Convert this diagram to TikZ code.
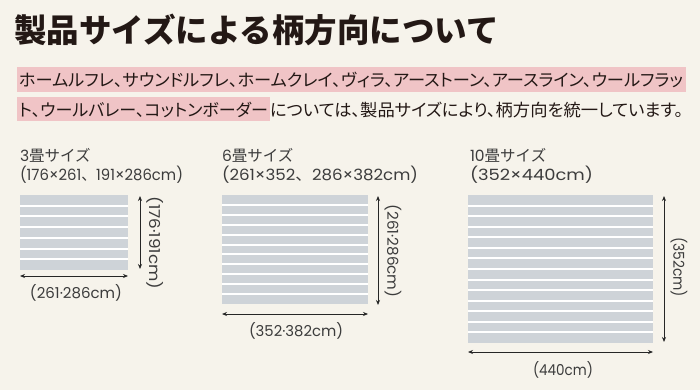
\documentclass[tikz,border=0pt]{standalone}
\usepackage{fontspec}
\usepackage{graphicx}
\usetikzlibrary{arrows.meta}
\setmainfont{Noto Sans CJK JP}
\newfontfamily\jpbody{Noto Sans CJK JP}[RawFeature=+palt]
\newfontfamily\lat{Poppins}
\definecolor{bg}{RGB}{246,243,235}
\definecolor{pinkhl}{RGB}{240,196,198}
\definecolor{rugc}{RGB}{206,211,216}
\definecolor{ink}{RGB}{35,24,21}
\definecolor{gr}{RGB}{60,60,60}
\tikzset{
  txt/.style={anchor=base west, inner sep=0pt, outer sep=0pt, text=ink},
  lbl/.style={anchor=base west, inner sep=0pt, outer sep=0pt, text=gr, font=\fontsize{15.5}{15.5}\selectfont},
  dim/.style={inner sep=0pt, outer sep=0pt, text=gr, font=\lat\fontsize{15}{15}\selectfont},
  dimarrow/.style={line width=0.8pt, draw=black!85, {Stealth[length=5pt,width=4pt]}-{Stealth[length=5pt,width=4pt]}},
  hl/.style={fill=pinkhl, draw=none},
}
\newcommand{\fitw}[2]{\resizebox{#1pt}{\height}{#2}}
\newcommand{\drawrug}[5]{% x0 y0 x1 y1 n
  \fill[rugc] (#1,#2) rectangle (#3,#4);
  \pgfmathsetmacro{\pitch}{(#4-#2)/#5}
  \foreach \i in {1,...,\numexpr#5-1\relax}{
    \draw[white, line width=2pt] (#1,{#2+\i*\pitch}) -- (#3,{#2+\i*\pitch});
  }
}
\begin{document}
\begin{tikzpicture}[x=1pt,y=-1pt]
\useasboundingbox[fill=bg] (0,0) rectangle (700,390);
% title
\node[txt, font=\fontsize{32.5}{32.5}\bfseries] (title) at (14,43) {製品サイズによる柄方向について};
% highlights
\fill[hl] (17,67) rectangle (686,92);
\fill[hl] (17,97) rectangle (270,121);
\node[txt, font=\jpbody\fontsize{17}{17}\selectfont] (l1) at (19,87) {\fitw{664}{ホームルフレ、サウンドルフレ、ホームクレイ、ヴィラ、アーストーン、アースライン、ウールフラッ}};
\node[txt, font=\jpbody\fontsize{17}{17}\selectfont] (l2a) at (19,117) {\fitw{249}{ト、ウールバレー、コットンボーダー}};
\node[txt, font=\jpbody\fontsize{17}{17}\selectfont] (l2b) at (270,117) {\fitw{413}{については、製品サイズにより、柄方向を統一しています。}};
% section labels
\node[lbl] (s1) at (20,161) {{\lat 3}畳サイズ};
\node[lbl] (s1b) at (20,180) {\fitw{163}{{\lat (176×261}、{\lat 191×286cm)}}};
\node[lbl] (s2) at (222,161) {{\lat 6}畳サイズ};
\node[lbl] (s2b) at (222,180) {\fitw{196}{{\lat (261×352}、{\lat 286×382cm)}}};
\node[lbl] (s3) at (470,161) {{\lat 10}畳サイズ};
\node[lbl] (s3b) at (470,180) {\fitw{123}{{\lat (352×440cm)}}};
% rugs
\drawrug{20}{195}{128}{270}{7}
\drawrug{222}{195}{368}{304}{11}
\drawrug{468}{195}{653}{343}{14}
% arrows
\coordinate (v1t) at (140,196); \coordinate (v1b) at (140,269);
\coordinate (h1l) at (20,276); \coordinate (h1r) at (128,276);
\coordinate (v2t) at (378,196); \coordinate (v2b) at (378,305);
\coordinate (h2l) at (222,314); \coordinate (h2r) at (368,314);
\coordinate (v3t) at (664,196); \coordinate (v3b) at (664,342);
\coordinate (h3l) at (468,352); \coordinate (h3r) at (653,352);
\draw[dimarrow] (v1t) -- (v1b);
\draw[dimarrow] (h1l) -- (h1r);
\draw[dimarrow] (v2t) -- (v2b);
\draw[dimarrow] (h2l) -- (h2r);
\draw[dimarrow] (v3t) -- (v3b);
\draw[dimarrow] (h3l) -- (h3r);
% dimension labels
\node[dim, rotate=-90] (d1v) at (155,243) {\fitw{93}{(176·191cm)}};
\node[dim] (d1h) at (76,293) {\fitw{92}{(261·286cm)}};
\node[dim, rotate=-90] (d2v) at (393,251) {\fitw{93}{(261·286cm)}};
\node[dim] (d2h) at (296,331) {\fitw{94}{(352·382cm)}};
\node[dim, rotate=-90] (d3v) at (679,267) {\fitw{60}{(352cm)}};
\node[dim] (d3h) at (563,370) {\fitw{60}{(440cm)}};
\end{tikzpicture}
\end{document}
